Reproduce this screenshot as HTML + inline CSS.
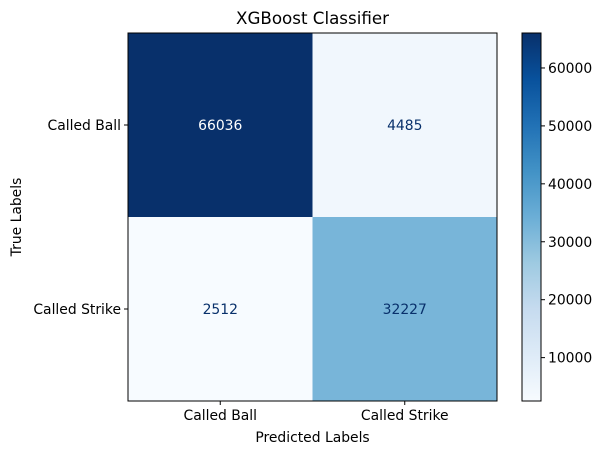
<!DOCTYPE html>
<html><head><meta charset="utf-8"><style>
body{margin:0;background:#fff;}
svg{display:block;font-family:"DejaVu Sans","Liberation Sans",sans-serif;}
</style></head><body>
<svg id="c" width="603" height="455">
<defs><linearGradient id="blues" x1="0" y1="1" x2="0" y2="0">
<stop offset="0" stop-color="#f7fbff"/><stop offset="0.125" stop-color="#deebf7"/>
<stop offset="0.25" stop-color="#c6dbef"/><stop offset="0.375" stop-color="#9ecae1"/>
<stop offset="0.5" stop-color="#6baed6"/><stop offset="0.625" stop-color="#4292c6"/>
<stop offset="0.75" stop-color="#2171b5"/><stop offset="0.875" stop-color="#08519c"/>
<stop offset="1" stop-color="#08306b"/></linearGradient></defs>
</svg>
<script>
const trueLabels=["Called Ball","Called Strike"];
const predLabels=["Called Ball","Called Strike"];
const row0=[66036,4485];
const row1=[2512,32227];
const cbTicks=[10000,20000,30000,40000,50000,60000];
const NS="http://www.w3.org/2000/svg";
const svg=document.getElementById('c');
const px0=128,py0=33,pw=369,ph=368;
const cbx=522,cbw=19;
const FS=13.9;
const matrix=[row0,row1];
const all=row0.concat(row1);
const vmin=Math.min(...all),vmax=Math.max(...all);
const stops=[[247,251,255],[222,235,247],[198,219,239],[158,202,225],[107,174,214],[66,146,198],[33,113,181],[8,81,156],[8,48,107]];
function color(v){let t=(v-vmin)/(vmax-vmin)*8;let i=Math.min(7,Math.floor(t));let f=t-i;
const a=stops[i],b=stops[i+1];return `rgb(${a.map((x,k)=>Math.round(x+(b[k]-x)*f)).join(',')})`;}
function el(tag,attrs,text){const e=document.createElementNS(NS,tag);for(const k in attrs)e.setAttribute(k,attrs[k]);if(text!==undefined)e.textContent=text;svg.appendChild(e);return e;}
const n=matrix.length,cw=pw/n,chh=ph/n;
const xCell=j=>px0+j*cw, yCell=i=>py0+i*chh;
const cbY=v=>py0+ph-(v-vmin)/(vmax-vmin)*ph;
matrix.forEach((row,i)=>row.forEach((v,j)=>{
 const r=el('rect',{x:xCell(j),y:yCell(i),width:cw,height:chh,fill:color(v)});
 
 
 const t=el('text',{x:xCell(j)+cw/2,y:yCell(i)+chh/2+5,'text-anchor':'middle','font-size':FS,fill:(v-vmin)/(vmax-vmin)>0.5?'#ffffff':'#08306b'},String(v));
 
 
}));
const fr=el('rect',{x:px0,y:py0,width:pw,height:ph,fill:'none',stroke:'#000','stroke-width':1});


predLabels.forEach((l,j)=>{const x=xCell(j)+cw/2;
 el('line',{x1:x,x2:x,y1:py0+ph,y2:py0+ph+4,stroke:'#000'});
 const t=el('text',{x:x,y:py0+ph+19,'text-anchor':'middle','font-size':FS},l);
 
 });
trueLabels.forEach((l,i)=>{const y=yCell(i)+chh/2;
 el('line',{x1:px0-4,x2:px0,y1:y,y2:y,stroke:'#000'});
 const t=el('text',{x:px0-7,y:y+5,'text-anchor':'end','font-size':FS},l);
 
 });
const cb=el('rect',{x:cbx,y:py0,width:cbw,height:ph,fill:'url(#blues)',stroke:'#000','stroke-width':1});


cbTicks.forEach(v=>{const y=cbY(v);
 el('line',{x1:cbx+cbw,x2:cbx+cbw+4,y1:y,y2:y,stroke:'#000'});
 const t=el('text',{x:cbx+cbw+7,y:y+5,'font-size':FS},String(v));
 
 });
const ti=el('text',{x:px0+pw/2,y:py0-9,'text-anchor':'middle','font-size':16.7},'XGBoost Classifier');


const xt=el('text',{x:px0+pw/2,y:442,'text-anchor':'middle','font-size':FS},'Predicted Labels');


const yt=el('text',{x:21,y:py0+ph/2,'text-anchor':'middle','font-size':FS,transform:`rotate(-90 21 ${py0+ph/2})`},'True Labels');


</script>
</body></html>
